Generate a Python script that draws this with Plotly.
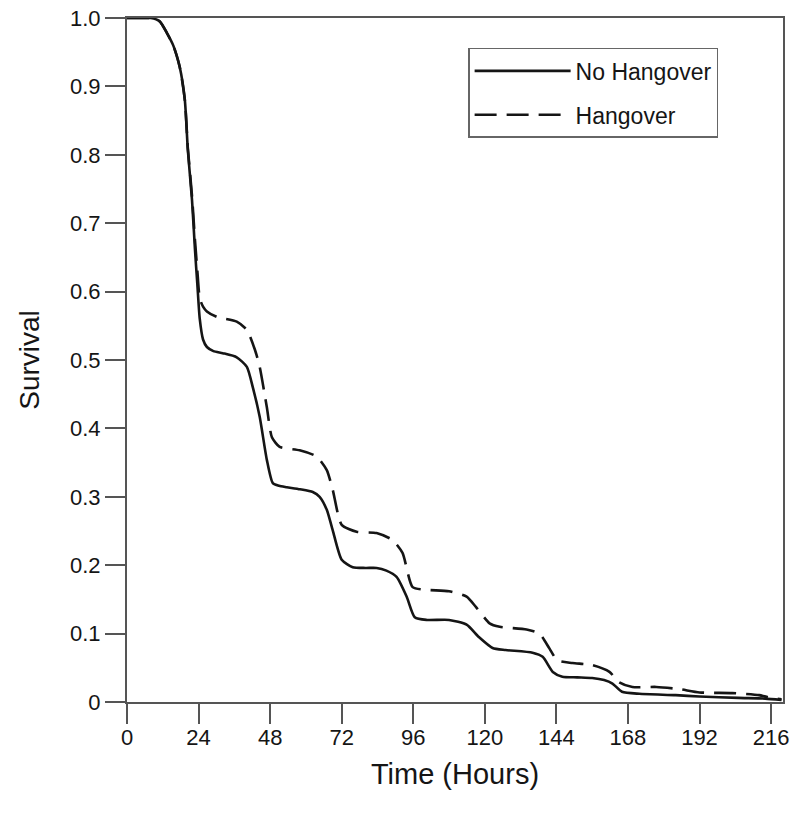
import plotly.graph_objects as go

# No Hangover (solid)
nh_hours = [0, 4, 8, 11, 13.4, 15.5, 17.7, 19.4, 20.4, 21.8, 22.8, 23.6, 24.4, 25.5, 26.8, 29, 32.1, 36.8, 40.2, 42.2,
            44.5, 46.9, 48.9, 51, 53.6, 58, 62.3, 64.6, 67, 69, 72, 75.7, 80, 83.7, 87, 90.4, 93.8, 96.5, 100.5,
            108, 113.9, 118, 122.6, 127, 136, 139.4, 142.8, 146, 151, 156, 160, 162.8, 166, 171.8, 184, 192, 205, 214, 219.5]
nh_surv = [1.0, 1.0, 1.0, 0.995, 0.978, 0.96, 0.928, 0.88, 0.807, 0.734, 0.661, 0.61, 0.56, 0.53, 0.519, 0.513, 0.51, 0.504, 0.49, 0.46,
           0.417, 0.354, 0.32, 0.316, 0.314, 0.311, 0.307, 0.30, 0.281, 0.251, 0.208, 0.197, 0.196, 0.196, 0.192, 0.183, 0.154, 0.124, 0.12,
           0.12, 0.113, 0.095, 0.079, 0.076, 0.072, 0.066, 0.044, 0.037, 0.036, 0.035, 0.032, 0.027, 0.015, 0.012, 0.010, 0.008, 0.006, 0.005, 0.003]

# Hangover (dashed)
h_hours = [0, 4, 8, 11, 13.4, 15.5, 17.7, 19.4, 20.4, 21.8, 22.8, 23.6, 24.4, 25.5, 26.8, 30.1, 36.8, 40.2, 42.9, 44.5,
           46.9, 48.6, 51.2, 57.9, 63.6, 67, 69, 72, 77, 83.7, 89, 92.4, 95.8, 100.5, 108, 113.9, 117, 121.6, 125,
           134, 138.3, 141.7, 144.3, 149.4, 156, 161.8, 165, 169.5, 177.5, 185, 192, 203, 212, 215, 219.5]
h_surv = [1.0, 1.0, 1.0, 0.995, 0.978, 0.96, 0.928, 0.88, 0.81, 0.74, 0.675, 0.63, 0.59, 0.578, 0.571, 0.563, 0.556, 0.544, 0.515, 0.49,
          0.431, 0.387, 0.373, 0.368, 0.359, 0.339, 0.31, 0.259, 0.249, 0.247, 0.237, 0.218, 0.168, 0.164, 0.162, 0.154, 0.139, 0.115, 0.11,
          0.106, 0.1, 0.078, 0.061, 0.057, 0.054, 0.044, 0.029, 0.022, 0.022, 0.019, 0.014, 0.013, 0.010, 0.007, 0.004]

x_ticks = [0, 24, 48, 72, 96, 120, 144, 168, 192, 216]
y_ticks = [0, 0.1, 0.2, 0.3, 0.4, 0.5, 0.6, 0.7, 0.8, 0.9, 1.0]
y_ticktext = ["0", "0.1", "0.2", "0.3", "0.4", "0.5", "0.6", "0.7", "0.8", "0.9", "1.0"]

fig = go.Figure()
fig.add_trace(go.Scatter(x=nh_hours, y=nh_surv, mode="lines", name="No Hangover", legendgroup="a",
                         line=dict(color="#151515", width=2.6, shape="spline", smoothing=0.6)))
fig.add_trace(go.Scatter(x=h_hours, y=h_surv, mode="lines", name="Hangover", legendgroup="b",
                         line=dict(color="#151515", width=2.6, dash="22px,10px", shape="spline", smoothing=0.6)))

font_family = "'Liberation Sans', Arial, sans-serif"
axis_color = "#555555"
fig.update_layout(
    width=800, height=813,
    margin=dict(l=127, r=17, t=18, b=111),
    paper_bgcolor="white", plot_bgcolor="white",
    font=dict(family=font_family, color="#151515", size=22),
    showlegend=True,
    legend=dict(x=0.52, y=0.9562, xanchor="left", yanchor="top",
                bordercolor="#666666", borderwidth=1.5, bgcolor="white",
                font=dict(size=23), itemwidth=96, tracegroupgap=11,
                traceorder="grouped", entrywidth=270, entrywidthmode="pixels"),
    xaxis=dict(range=[0, 220], tickvals=x_ticks, ticks="outside", ticklen=20, tickwidth=1.5,
               tickcolor=axis_color, showline=True, linecolor=axis_color, linewidth=2, mirror=True,
               showgrid=False, zeroline=False, tickfont=dict(size=22), automargin=False,
               ticklabelstandoff=-5,
               title=dict(text="Time (Hours)", font=dict(size=29), standoff=14)),
    yaxis=dict(range=[0, 1.0], tickvals=y_ticks, ticktext=y_ticktext, ticks="outside", ticklen=20, tickwidth=1.5,
               tickcolor=axis_color, showline=True, linecolor=axis_color, linewidth=2, mirror=True,
               showgrid=False, zeroline=False, tickfont=dict(size=22), automargin=False,
               title=dict(text="Survival", font=dict(size=28), standoff=22)),
)

fig.write_html("out.html", config={"displayModeBar": False},
               post_script="document.body.style.margin='0';")
